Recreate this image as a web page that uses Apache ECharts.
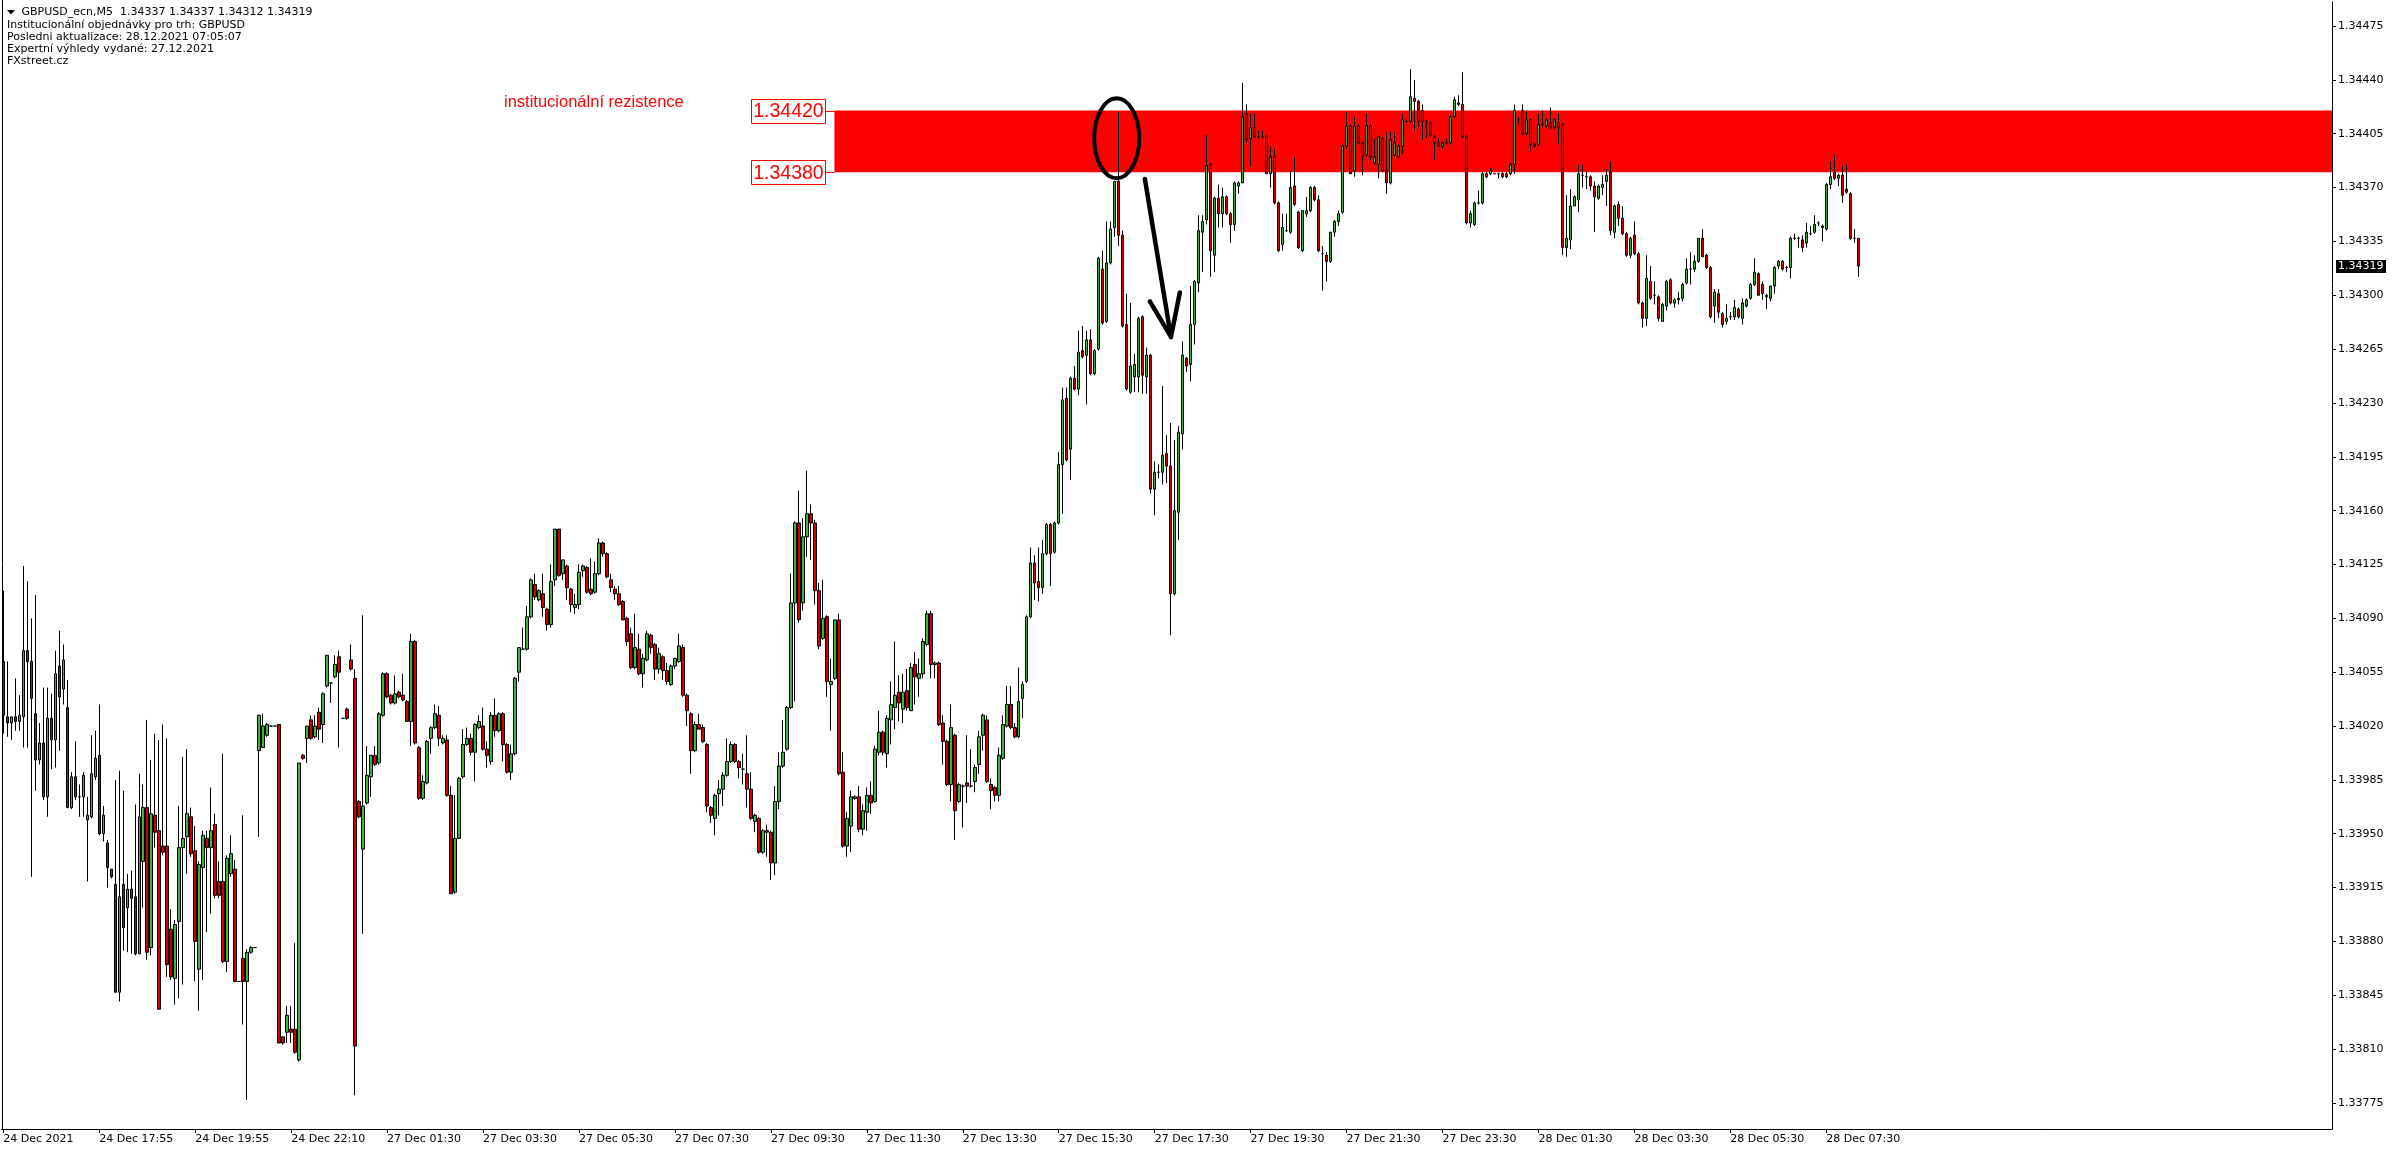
<!DOCTYPE html>
<html>
<head>
<meta charset="utf-8">
<script src="https://cdn.jsdelivr.net/npm/echarts@6/dist/echarts.min.js"></script>
<style>
html,body{margin:0;padding:0;background:#fff;}
#chart{width:2396px;height:1154px;}
</style>
</head>
<body>
<div id="chart"></div>
<script>
// ---- tick labels ----
const timeLabels = ['24 Dec 2021','24 Dec 17:55','24 Dec 19:55','24 Dec 22:10','27 Dec 01:30','27 Dec 03:30','27 Dec 05:30','27 Dec 07:30','27 Dec 09:30','27 Dec 11:30','27 Dec 13:30','27 Dec 15:30','27 Dec 17:30','27 Dec 19:30','27 Dec 21:30','27 Dec 23:30','28 Dec 01:30','28 Dec 03:30','28 Dec 05:30','28 Dec 07:30'];
const priceTicks = [1.33775,1.33810,1.33845,1.33880,1.33915,1.33950,1.33985,1.34020,1.34055,1.34090,1.34125,1.34160,1.34195,1.34230,1.34265,1.34300,1.34335,1.34370,1.34405,1.34440,1.34475];
const zoneLevels = [1.34380, 1.34420];
const lastPrice = 1.34319;
const headerLines = ['GBPUSD_ecn,M5  1.34337 1.34337 1.34312 1.34319','Institucionální objednávky pro trh: GBPUSD','Posledni aktualizace: 28.12.2021 07:05:07','Expertní výhledy vydané: 27.12.2021','FXstreet.cz'];
const zoneTitle = 'institucionální rezistence';

// ---- M5 candles (OHLC) ----
const opens = [
1.34062,1.34026,1.34022,1.34026,1.34023,1.34026,1.34069,1.34062,1.34028,1.33998,
1.34009,1.33974,1.34025,1.34011,1.34059,1.34044,1.34032,1.33967,1.33987,1.33974,
1.33974,1.33959,1.33961,1.33987,1.34001,1.33950,1.33944,1.33927,1.33917,1.33847,
1.33917,1.33902,1.33914,1.33909,1.33872,1.33932,1.33967,1.33876,1.33962,1.33952,
1.33942,1.33942,1.33888,1.33856,1.33893,1.33941,1.33948,1.33961,1.33939,1.33862,
1.33928,1.33947,1.33941,1.33956,1.33919,1.33919,1.33867,1.33924,1.33927,1.33854,
1.33869,1.33854,1.33873,1.33876,1.34004,1.34006,1.34014,1.34020,1.34020,1.34021,
1.33818,1.33821,1.33823,1.33823,1.33803,1.34001,1.34012,1.34024,1.34013,1.34029,
1.34021,1.34046,1.34048,1.34052,1.34065,1.34025,1.34031,1.34063,1.34051,1.33971,
1.33940,1.33970,1.33987,1.34001,1.33996,1.34027,1.34054,1.34040,1.34035,1.34042,
1.34040,1.34036,1.34023,1.34075,1.34006,1.33973,1.33983,1.34012,1.34019,1.34027,
1.34009,1.34011,1.33975,1.33912,1.33947,1.33987,1.34008,1.34012,1.34003,1.34019,
1.34020,1.34005,1.33997,1.34027,1.34017,1.34028,1.34008,1.33990,1.34002,1.34055,
1.34070,1.34070,1.34091,1.34112,1.34102,1.34106,1.34096,1.34086,1.34115,1.34148,
1.34119,1.34124,1.34109,1.34097,1.34099,1.34121,1.34123,1.34109,1.34107,1.34119,
1.34139,1.34132,1.34115,1.34109,1.34106,1.34101,1.34090,1.34080,1.34058,1.34070,
1.34054,1.34063,1.34079,1.34073,1.34057,1.34065,1.34056,1.34047,1.34059,1.34062,
1.34071,1.34040,1.34028,1.34004,1.34021,1.34019,1.34008,1.33967,1.33960,1.33976,
1.33979,1.33988,1.33997,1.34008,1.33997,1.33992,1.33989,1.33979,1.33958,1.33960,
1.33938,1.33952,1.33951,1.33931,1.33971,1.33994,1.34005,1.34032,1.34100,1.34152,
1.34100,1.34143,1.34158,1.34152,1.34108,1.34077,1.34091,1.34047,1.34051,1.34089,
1.33990,1.33942,1.33955,1.33973,1.33974,1.33953,1.33964,1.33975,1.33971,1.34003,
1.34016,1.34002,1.34024,1.34032,1.34042,1.34031,1.34043,1.34030,1.34060,1.34051,
1.34054,1.34073,1.34093,1.34060,1.34061,1.34022,1.34010,1.33982,1.34014,1.33971,
1.33981,1.33983,1.33981,1.33984,1.33995,1.34014,1.34024,1.33982,1.33980,1.33975,
1.33999,1.34020,1.34034,1.34019,1.34013,1.34038,1.34049,1.34091,1.34126,1.34114,
1.34110,1.34132,1.34151,1.34133,1.34152,1.34190,1.34233,1.34200,1.34246,1.34239,
1.34264,1.34261,1.34271,1.34249,1.34265,1.34317,1.34283,1.34321,1.34344,1.34374,
1.34339,1.34281,1.34237,1.34247,1.34247,1.34286,
1.34247,1.34261,1.34174,1.34185,1.34185,1.34197,1.34189,1.34106,1.34159,1.34210,
1.34259,1.34255,1.34281,1.34308,1.34341,1.34349,1.34385,1.34326,1.34363,1.34353,
1.34364,1.34353,1.34346,1.34371,1.34373,1.34418,1.34402,1.34409,1.34403,1.34403,
1.34403,1.34379,1.34390,1.34360,1.34333,1.34342,1.34341,1.34371,1.34354,1.34329,
1.34353,1.34355,1.34370,1.34362,1.34327,1.34326,1.34322,1.34341,1.34348,1.34354,
1.34397,1.34410,1.34381,1.34410,1.34399,1.34391,1.34410,1.34386,1.34385,1.34402,
1.34381,1.34373,1.34391,1.34390,1.34397,1.34413,1.34413,1.34428,1.34426,1.34420,
1.34413,1.34412,1.34403,1.34399,1.34397,1.34399,1.34399,1.34416,1.34425,1.34424,
1.34403,1.34347,1.34346,1.34360,1.34360,1.34379,1.34379,1.34379,1.34379,1.34379,1.34379,1.34379,
1.34385,1.34414,1.34420,1.34405,1.34414,1.34398,1.34398,1.34411,1.34410,1.34412,
1.34409,1.34412,1.34411,1.34331,1.34336,1.34358,1.34362,1.34378,1.34377,1.34377,
1.34371,1.34363,1.34370,1.34374,1.34380,1.34341,1.34359,1.34350,1.34340,1.34326,
1.34339,1.34327,1.34295,1.34285,1.34309,1.34300,1.34299,1.34283,1.34293,1.34310,
1.34295,1.34297,1.34298,1.34308,1.34317,1.34317,1.34322,1.34337,1.34326,1.34318,
1.34293,1.34301,1.34288,1.34283,1.34286,1.34286,1.34291,1.34285,1.34293,1.34298,
1.34307,1.34314,1.34307,1.34300,1.34298,1.34306,1.34319,1.34322,1.34318,1.34318,
1.34337,1.34337,1.34336,1.34334,1.34340,1.34341,1.34347,1.34345,1.34343,1.34372,
1.34380,1.34376,1.34378,1.34369,1.34366,1.34337,1.34337];

const closes = [
1.34027,1.34022,1.34026,1.34023,1.34027,1.34069,1.34062,1.34038,1.33998,1.34009,
1.33974,1.34025,1.34011,1.34054,1.34039,1.34063,1.33967,1.33987,1.33974,1.33974,
1.33988,1.33962,1.33989,1.33999,1.33950,1.33962,1.33928,1.33922,1.33847,1.33909,
1.33889,1.33914,1.33908,1.33872,1.33961,1.33967,1.33873,1.33963,1.33951,1.33836,
1.33938,1.33865,1.33857,1.33891,1.33941,1.33947,1.33963,1.33937,1.33880,1.33930,
1.33949,1.33941,1.33952,1.33910,1.33910,1.33867,1.33934,1.33937,1.33854,1.33854,
1.33854,1.33873,1.33876,1.33876,1.34027,1.34020,1.34021,1.34020,1.34020,1.33814,
1.33814,1.33832,1.33821,1.33808,1.33996,1.33999,1.34020,1.34012,1.34020,1.34018,
1.34041,1.34066,1.34048,1.34060,1.34055,1.34025,1.34025,1.34057,1.33812,1.33961,
1.33968,1.33988,1.34001,1.33995,1.34028,1.34054,1.34039,1.34035,1.34041,1.34039,
1.34037,1.34023,1.34075,1.34009,1.33973,1.33984,1.34010,1.34019,1.34028,1.34012,
1.34012,1.33975,1.33911,1.33947,1.33986,1.34008,1.34012,1.34003,1.34021,1.34023,
1.34005,1.34001,1.34027,1.34017,1.34028,1.34008,1.33990,1.34002,1.34051,1.34071,
1.34070,1.34091,1.34115,1.34104,1.34108,1.34097,1.34086,1.34114,1.34148,1.34118,
1.34128,1.34110,1.34099,1.34099,1.34120,1.34124,1.34107,1.34106,1.34119,1.34139,
1.34132,1.34117,1.34110,1.34106,1.34099,1.34089,1.34075,1.34058,1.34071,1.34054,
1.34064,1.34080,1.34071,1.34057,1.34067,1.34056,1.34049,1.34059,1.34064,1.34072,
1.34040,1.34030,1.34004,1.34021,1.34018,1.34010,1.33968,1.33962,1.33975,1.33979,
1.33988,1.33997,1.34008,1.33997,1.33993,1.33992,1.33979,1.33960,1.33962,1.33938,
1.33952,1.33951,1.33931,1.33971,1.33994,1.34003,1.34032,1.34100,1.34152,1.34089,
1.34143,1.34158,1.34152,1.34108,1.34072,1.34090,1.34049,1.34049,1.34089,1.33989,
1.33942,1.33960,1.33974,1.33974,1.33953,1.33965,1.33975,1.33970,1.34005,1.34016,
1.34003,1.34025,1.34034,1.34040,1.34035,1.34042,1.34032,1.34058,1.34052,1.34054,
1.34075,1.34093,1.34060,1.34061,1.34021,1.34010,1.33982,1.34019,1.33965,1.33982,
1.33981,1.33981,1.33981,1.33993,1.34013,1.34027,1.33984,1.33978,1.33975,1.34001,
1.34021,1.34034,1.34019,1.34013,1.34036,1.34047,1.34091,1.34126,1.34113,1.34110,
1.34132,1.34151,1.34132,1.34152,1.34190,1.34232,1.34193,1.34246,1.34239,1.34263,
1.34260,1.34271,1.34249,1.34264,1.34324,1.34282,1.34321,1.34343,1.34374,1.34339,
1.34280,1.34239,1.34254,1.34255,1.34285,1.34248,
1.34261,1.34174,1.34185,1.34185,1.34196,1.34189,1.34106,1.34160,1.34211,1.34261,
1.34254,1.34281,1.34309,1.34342,1.34348,1.34384,1.34329,1.34363,1.34353,1.34364,
1.34353,1.34346,1.34373,1.34373,1.34416,1.34401,1.34409,1.34403,1.34403,1.34403,
1.34379,1.34390,1.34360,1.34329,1.34344,1.34342,1.34370,1.34359,1.34331,1.34355,
1.34355,1.34370,1.34362,1.34329,1.34327,1.34322,1.34341,1.34348,1.34353,1.34397,
1.34410,1.34379,1.34410,1.34399,1.34390,1.34410,1.34390,1.34390,1.34403,1.34381,
1.34373,1.34401,1.34399,1.34397,1.34414,1.34413,1.34429,1.34426,1.34413,1.34413,
1.34413,1.34404,1.34399,1.34397,1.34399,1.34399,1.34416,1.34427,1.34424,1.34403,
1.34347,1.34353,1.34360,1.34360,1.34379,1.34377,1.34381,1.34379,1.34379,1.34377,1.34377,1.34385,
1.34420,1.34414,1.34405,1.34414,1.34398,1.34397,1.34411,1.34411,1.34414,1.34409,
1.34414,1.34409,1.34331,1.34337,1.34358,1.34364,1.34379,1.34378,1.34377,1.34371,
1.34364,1.34371,1.34372,1.34378,1.34342,1.34358,1.34350,1.34340,1.34326,1.34337,
1.34327,1.34295,1.34285,1.34311,1.34298,1.34300,1.34285,1.34294,1.34309,1.34295,
1.34297,1.34298,1.34307,1.34317,1.34317,1.34322,1.34337,1.34325,1.34318,1.34286,
1.34302,1.34289,1.34281,1.34285,1.34286,1.34292,1.34286,1.34295,1.34297,1.34307,
1.34315,1.34300,1.34301,1.34299,1.34306,1.34318,1.34322,1.34317,1.34318,1.34337,
1.34337,1.34337,1.34331,1.34341,1.34340,1.34346,1.34347,1.34344,1.34372,1.34377,
1.34376,1.34378,1.34365,1.34367,1.34337,1.34337,1.34319];

const lows = [
1.34015,1.34013,1.34011,1.34017,1.34017,1.34006,1.34006,1.33922,1.33978,1.33995,
1.33972,1.33961,1.33992,1.33993,1.34004,1.34034,1.33967,1.33966,1.33972,1.33961,
1.33961,1.33919,1.33960,1.33985,1.33949,1.33945,1.33915,1.33921,1.33847,1.33841,
1.33874,1.33873,1.33872,1.33871,1.33872,1.33902,1.33868,1.33871,1.33941,1.33836,
1.33936,1.33857,1.33855,1.33839,1.33843,1.33852,1.33924,1.33935,1.33854,1.33835,
1.33855,1.33886,1.33898,1.33908,1.33908,1.33866,1.33860,1.33922,1.33854,1.33854,
1.33826,1.33777,1.33872,1.33876,1.33948,1.34006,1.34013,1.34020,1.34020,1.33814,
1.33813,1.33814,1.33814,1.33807,1.33802,1.33998,1.33996,1.34011,1.34012,1.34011,
1.34009,1.34045,1.34035,1.34051,1.34006,1.34025,1.34024,1.34056,1.33780,1.33960,
1.33885,1.33969,1.33974,1.33994,1.33995,1.34026,1.34038,1.34034,1.34034,1.34038,
1.34036,1.34023,1.34007,1.34008,1.33972,1.33972,1.33982,1.34002,1.34018,1.34007,
1.34008,1.33974,1.33911,1.33911,1.33947,1.33986,1.34007,1.34001,1.33984,1.34018,
1.34004,1.33993,1.33995,1.34013,1.34016,1.33997,1.33989,1.33985,1.34001,1.34049,
1.34070,1.34069,1.34090,1.34102,1.34101,1.34091,1.34082,1.34084,1.34111,1.34117,
1.34115,1.34102,1.34094,1.34093,1.34096,1.34117,1.34106,1.34105,1.34106,1.34118,
1.34130,1.34116,1.34107,1.34102,1.34098,1.34089,1.34072,1.34057,1.34057,1.34053,
1.34045,1.34062,1.34067,1.34050,1.34054,1.34050,1.34047,1.34046,1.34057,1.34061,
1.34039,1.34020,1.33989,1.34003,1.34018,1.34009,1.33964,1.33957,1.33949,1.33962,
1.33968,1.33987,1.33996,1.33996,1.33986,1.33982,1.33967,1.33959,1.33951,1.33937,
1.33937,1.33935,1.33920,1.33923,1.33966,1.33993,1.34004,1.34031,1.34036,1.34087,
1.34095,1.34130,1.34128,1.34099,1.34070,1.34076,1.34039,1.34017,1.34050,1.33988,
1.33941,1.33935,1.33938,1.33972,1.33951,1.33949,1.33952,1.33963,1.33970,1.34001,
1.34001,1.33993,1.34008,1.34018,1.34023,1.34022,1.34030,1.34030,1.34034,1.34039,
1.34051,1.34072,1.34051,1.34051,1.34020,1.33995,1.33981,1.33971,1.33946,1.33970,
1.33954,1.33970,1.33980,1.33977,1.33989,1.34004,1.33983,1.33966,1.33971,1.33971,
1.33998,1.34019,1.34018,1.34012,1.34012,1.34025,1.34048,1.34090,1.34102,1.34101,
1.34106,1.34131,1.34111,1.34132,1.34151,1.34158,1.34192,1.34180,1.34238,1.34235,
1.34259,1.34229,1.34248,1.34248,1.34264,1.34281,1.34282,1.34320,1.34338,1.34332,
1.34279,1.34238,1.34236,1.34237,1.34237,1.34236,
1.34236,1.34171,1.34157,1.34181,1.34177,1.34178,1.34079,1.34105,1.34141,1.34200,
1.34250,1.34244,1.34268,1.34302,1.34315,1.34346,1.34312,1.34315,1.34344,1.34344,
1.34352,1.34334,1.34342,1.34366,1.34373,1.34399,1.34384,1.34402,1.34402,1.34402,
1.34379,1.34370,1.34359,1.34328,1.34329,1.34341,1.34340,1.34358,1.34330,1.34328,
1.34351,1.34354,1.34361,1.34328,1.34303,1.34309,1.34321,1.34338,1.34345,1.34353,
1.34395,1.34379,1.34377,1.34398,1.34378,1.34390,1.34388,1.34385,1.34376,1.34380,
1.34366,1.34372,1.34390,1.34389,1.34392,1.34412,1.34412,1.34407,1.34409,1.34401,
1.34402,1.34403,1.34388,1.34396,1.34395,1.34398,1.34398,1.34415,1.34423,1.34402,
1.34346,1.34344,1.34345,1.34359,1.34359,1.34376,1.34378,1.34379,1.34376,1.34376,1.34376,1.34378,
1.34379,1.34411,1.34404,1.34404,1.34394,1.34396,1.34397,1.34409,1.34409,1.34408,
1.34408,1.34398,1.34326,1.34325,1.34330,1.34358,1.34354,1.34370,1.34369,1.34368,
1.34341,1.34362,1.34365,1.34358,1.34339,1.34337,1.34345,1.34339,1.34325,1.34324,
1.34326,1.34294,1.34279,1.34280,1.34297,1.34294,1.34283,1.34283,1.34290,1.34294,
1.34292,1.34294,1.34296,1.34307,1.34307,1.34315,1.34321,1.34325,1.34317,1.34285,
1.34282,1.34285,1.34279,1.34281,1.34284,1.34284,1.34285,1.34281,1.34292,1.34297,
1.34306,1.34300,1.34297,1.34291,1.34296,1.34301,1.34317,1.34316,1.34315,1.34311,
1.34336,1.34331,1.34328,1.34331,1.34339,1.34340,1.34345,1.34335,1.34342,1.34369,
1.34375,1.34371,1.34360,1.34366,1.34336,1.34334,1.34312];

const highs = [
1.34108,1.34062,1.34026,1.34051,1.34040,1.34124,1.34114,1.34090,1.34105,1.34022,
1.34045,1.34045,1.34041,1.34069,1.34082,1.34073,1.34050,1.33990,1.34010,1.33982,
1.33990,1.33974,1.34014,1.34017,1.34034,1.33968,1.33946,1.33927,1.33985,1.33991,
1.33978,1.33924,1.33926,1.33969,1.33989,1.33982,1.34024,1.33998,1.34015,1.34011,
1.34021,1.34012,1.33901,1.33894,1.33968,1.34000,1.34005,1.33967,1.33955,1.33932,
1.33952,1.33952,1.33980,1.33963,1.33932,1.34002,1.33936,1.33949,1.33933,1.33854,
1.33962,1.33875,1.33877,1.33876,1.34027,1.34028,1.34022,1.34020,1.34020,1.34021,
1.33818,1.33838,1.33838,1.33879,1.33996,1.34002,1.34020,1.34027,1.34027,1.34032,
1.34042,1.34066,1.34048,1.34066,1.34069,1.34025,1.34032,1.34073,1.34057,1.33972,
1.34092,1.34007,1.34001,1.34007,1.34029,1.34055,1.34055,1.34041,1.34053,1.34043,
1.34054,1.34037,1.34080,1.34076,1.34007,1.33988,1.34011,1.34020,1.34034,1.34033,
1.34014,1.34014,1.33981,1.33975,1.33987,1.34018,1.34019,1.34015,1.34022,1.34027,
1.34032,1.34010,1.34029,1.34038,1.34029,1.34029,1.34009,1.34008,1.34052,1.34071,
1.34084,1.34098,1.34116,1.34119,1.34109,1.34119,1.34097,1.34125,1.34148,1.34148,
1.34128,1.34125,1.34110,1.34106,1.34125,1.34125,1.34124,1.34129,1.34127,1.34142,
1.34140,1.34133,1.34119,1.34111,1.34111,1.34102,1.34091,1.34084,1.34093,1.34080,
1.34067,1.34082,1.34080,1.34074,1.34071,1.34066,1.34061,1.34060,1.34064,1.34080,
1.34073,1.34041,1.34029,1.34023,1.34028,1.34021,1.34009,1.33968,1.33976,1.33985,
1.33990,1.34012,1.34010,1.34009,1.33998,1.34002,1.34014,1.33990,1.33963,1.33961,
1.33953,1.33956,1.33952,1.33981,1.34003,1.34024,1.34033,1.34119,1.34153,1.34173,
1.34155,1.34186,1.34164,1.34154,1.34113,1.34115,1.34092,1.34064,1.34089,1.34093,
1.34003,1.33964,1.33978,1.33975,1.33981,1.33969,1.33980,1.33984,1.34007,1.34030,
1.34017,1.34027,1.34049,1.34075,1.34053,1.34054,1.34057,1.34061,1.34068,1.34064,
1.34077,1.34095,1.34095,1.34062,1.34062,1.34027,1.34011,1.34034,1.34015,1.33983,
1.33982,1.34014,1.34005,1.33995,1.34017,1.34028,1.34027,1.33986,1.33981,1.34006,
1.34027,1.34046,1.34046,1.34022,1.34058,1.34049,1.34092,1.34136,1.34131,1.34136,
1.34141,1.34152,1.34152,1.34153,1.34198,1.34240,1.34240,1.34247,1.34254,1.34277,
1.34280,1.34277,1.34278,1.34265,1.34325,1.34329,1.34348,1.34348,1.34374,1.34419,
1.34342,1.34301,1.34295,1.34262,1.34286,1.34287,
1.34266,1.34262,1.34192,1.34190,1.34241,1.34209,1.34217,1.34206,1.34215,1.34270,
1.34260,1.34306,1.34310,1.34352,1.34352,1.34404,1.34386,1.34364,1.34372,1.34370,
1.34365,1.34354,1.34374,1.34374,1.34438,1.34424,1.34418,1.34418,1.34407,1.34407,
1.34404,1.34397,1.34395,1.34361,1.34353,1.34353,1.34381,1.34390,1.34355,1.34355,
1.34364,1.34371,1.34371,1.34365,1.34332,1.34328,1.34341,1.34349,1.34355,1.34398,
1.34419,1.34411,1.34416,1.34411,1.34400,1.34418,1.34411,1.34402,1.34403,1.34403,
1.34406,1.34406,1.34406,1.34398,1.34418,1.34414,1.34447,1.34440,1.34427,1.34424,
1.34414,1.34413,1.34404,1.34402,1.34400,1.34402,1.34417,1.34429,1.34430,1.34445,
1.34404,1.34355,1.34361,1.34368,1.34380,1.34380,1.34383,1.34379,1.34379,1.34380,1.34380,1.34386,
1.34424,1.34416,1.34424,1.34420,1.34415,1.34399,1.34418,1.34420,1.34415,1.34422,
1.34415,1.34418,1.34412,1.34365,1.34369,1.34365,1.34385,1.34385,1.34381,1.34378,
1.34374,1.34372,1.34378,1.34382,1.34387,1.34359,1.34361,1.34358,1.34341,1.34338,
1.34348,1.34328,1.34296,1.34326,1.34319,1.34309,1.34300,1.34295,1.34310,1.34311,
1.34298,1.34302,1.34308,1.34324,1.34328,1.34326,1.34337,1.34343,1.34327,1.34319,
1.34304,1.34304,1.34289,1.34294,1.34289,1.34297,1.34292,1.34298,1.34298,1.34308,
1.34324,1.34315,1.34309,1.34301,1.34306,1.34319,1.34323,1.34323,1.34319,1.34338,
1.34340,1.34338,1.34339,1.34347,1.34345,1.34352,1.34348,1.34346,1.34373,1.34387,
1.34391,1.34379,1.34384,1.34385,1.34367,1.34343,1.34337];

// ---- build ----
const N_SLOTS = 583; // visible bar slots across the chart window
const categories = [];
for (let i = 0; i < N_SLOTS; i++) categories.push(String(i));
const candles = opens.map((o, i) => [o, closes[i], lows[i], highs[i]]);
const isLabelSlot = i => i % 24 === 0 && (i / 24) < timeLabels.length;

const FONT = '"DejaVu Sans", Verdana, sans-serif';
const chart = echarts.init(document.getElementById('chart'), null, {renderer: 'canvas'});

const option = {
  animation: false,
  backgroundColor: '#ffffff',
  grid: {left: 1.33, right: 64, top: 2, bottom: 25, containLabel: false},
  xAxis: {
    type: 'category',
    data: categories,
    boundaryGap: true,
    axisLine: {show: true, lineStyle: {color: '#000', width: 1}},
    axisTick: {show: true, alignWithLabel: true, interval: (i) => isLabelSlot(i), length: 4, lineStyle: {color: '#000'}},
    axisLabel: {
      interval: (i) => isLabelSlot(i), align: 'left', margin: 5,
      fontFamily: FONT, fontSize: 11, color: '#000',
      formatter: function (v) { const i = Number(v); return isLabelSlot(i) ? timeLabels[i / 24] : ''; }
    },
    splitLine: {show: false}
  },
  yAxis: {
    type: 'value', position: 'right', scale: true,
    min: 1.337581, max: 1.344906,
    axisLine: {show: true, lineStyle: {color: '#000', width: 1}},
    axisTick: {show: true, length: 4, customValues: priceTicks, lineStyle: {color: '#000'}},
    axisLabel: {customValues: priceTicks, margin: 6, fontFamily: FONT, fontSize: 11, color: '#000',
      formatter: v => Number(v).toFixed(5)},
    splitLine: {show: false}
  },
  series: [{
    type: 'candlestick',
    data: candles,
    barWidth: 3,
    z: 5,
    silent: true,
    large: false,
    itemStyle: {
      color: '#3cb43c', color0: '#d00000',
      borderColor: '#000', borderColor0: '#000', borderColorDoji: '#000',
      borderWidth: 1
    }
  }]
};
chart.setOption(option);

// ---- annotations (positioned from data coordinates) ----
const x0 = chart.convertToPixel({xAxisIndex: 0}, 0);
const x1 = chart.convertToPixel({xAxisIndex: 0}, 100);
const bx = b => x0 + (x1 - x0) * b / 100;
const py = p => chart.convertToPixel({yAxisIndex: 0}, p);
const plotRight = 2396 - 64, plotBottom = 1154 - 25;

const zTop = py(zoneLevels[1]), zBot = py(zoneLevels[0]);
const zLeft = bx(207.9);
const g = [];
// resistance zone
g.push({type: 'rect', z: 1, silent: true, shape: {x: zLeft, y: zTop, width: plotRight - zLeft, height: zBot - zTop}, style: {fill: '#ff0000'}});
// zone price labels
[[zoneLevels[1], zTop], [zoneLevels[0], zBot]].forEach(([lvl, yy]) => {
  const bw = 74, bh = 24, right = zLeft - 9;
  g.push({type: 'line', z: 10, silent: true, shape: {x1: right, y1: Math.round(yy) + 0.5, x2: zLeft, y2: Math.round(yy) + 0.5}, style: {stroke: '#ff0000', lineWidth: 1}});
  g.push({type: 'rect', z: 10, silent: true, shape: {x: Math.round(right - bw) + 0.5, y: Math.round(yy - bh / 2) + 0.5, width: bw, height: bh}, style: {fill: '#fff', stroke: '#ff0000', lineWidth: 1}});
  g.push({type: 'text', z: 11, silent: true, x: right - bw / 2, y: yy + 1, style: {text: lvl.toFixed(5), font: '19.5px "Liberation Sans", Arial, sans-serif', fill: '#ff0000', align: 'center', verticalAlign: 'middle'}});
});
g.push({type: 'text', z: 11, silent: true, x: 504, y: 102, style: {text: zoneTitle, font: '16.5px "Liberation Sans", Arial, sans-serif', fill: '#ff0000', align: 'left', verticalAlign: 'middle'}});

// ellipse around the rejection wick
g.push({type: 'ellipse', z: 12, silent: true, shape: {cx: bx(278.5), cy: py(1.34402), rx: 22.5, ry: 40}, style: {fill: 'none', stroke: '#000', lineWidth: 4}});
// arrow
const aS = [bx(285.55), py(1.343756)], aT = [bx(292.07), py(1.342729)];
const wL = [bx(286.8), py(1.342960)], wR = [bx(294.3), py(1.343018)];
g.push({type: 'polyline', z: 12, silent: true, shape: {points: [aS, aT]}, style: {stroke: '#000', lineWidth: 4.5, fill: null, lineCap: 'round'}});
g.push({type: 'polyline', z: 12, silent: true, shape: {points: [wL, aT, wR]}, style: {stroke: '#000', lineWidth: 4.5, fill: null, lineCap: 'round', lineJoin: 'round'}});

// current price tag on the price axis
const lpY = py(lastPrice);
g.push({type: 'rect', z: 20, silent: true, shape: {x: plotRight + 4, y: Math.round(lpY) - 6, width: 50, height: 13}, style: {fill: '#000'}});
g.push({type: 'text', z: 21, silent: true, x: plotRight + 6, y: Math.round(lpY) + 0.5, style: {text: lastPrice.toFixed(5), font: '11px ' + FONT, fill: '#fff', align: 'left', verticalAlign: 'middle'}});

// left frame line
g.push({type: 'line', z: 20, silent: true, shape: {x1: 2.5, y1: 0, x2: 2.5, y2: plotBottom}, style: {stroke: '#000', lineWidth: 1}});

// header info block
g.push({type: 'polygon', z: 20, silent: true, shape: {points: [[7, 10], [15, 10], [11, 14.5]]}, style: {fill: '#000'}});
const hY = [12.5, 25, 37, 49, 61];
headerLines.forEach((t, i) => {
  g.push({type: 'text', z: 20, silent: true, x: i === 0 ? 21.5 : 7, y: hY[i], style: {text: t, font: '11px ' + FONT, fill: '#000', align: 'left', verticalAlign: 'middle'}});
});

chart.setOption({graphic: {elements: g}});
</script>
</body>
</html>
